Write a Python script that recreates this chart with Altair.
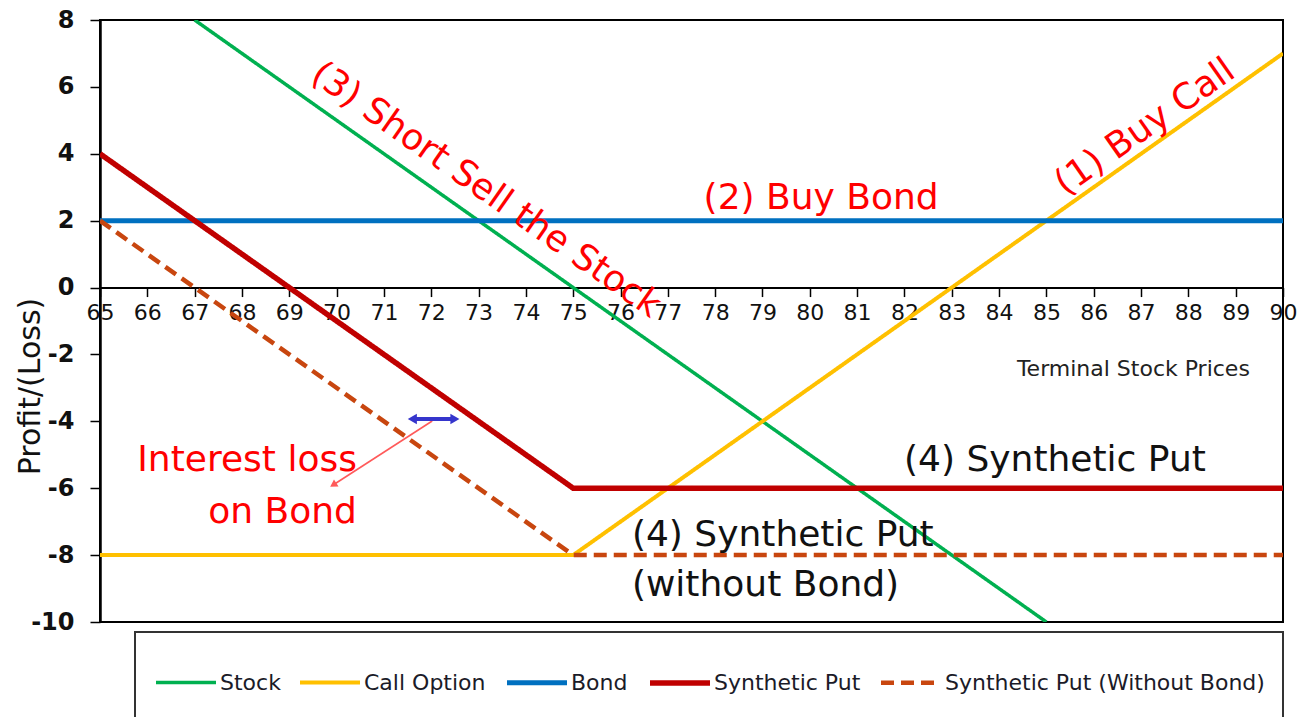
import altair as alt
import pandas as pd

# ---------------- data ----------------
series_names = ["Stock", "Call Option", "Bond", "Synthetic Put", "Synthetic Put (Without Bond)"]
series_colors = ["#00B050", "#FFC000", "#0070C0", "#C00000", "#C8460F"]
series_widths = [3.5, 4, 5, 5.5, 4.5]
series_dashes = [[1, 0], [1, 0], [1, 0], [1, 0], [13, 7]]

stock_x = [67, 85]
stock_y = [8, -10]
call_x = [65, 75, 90]
call_y = [-8, -8, 7]
bond_x = [65, 90]
bond_y = [2, 2]
sput_x = [65, 75, 90]
sput_y = [4, -6, -6]
sput_nb_x = [65, 75, 90]
sput_nb_y = [2, -8, -8]

x_ticks = list(range(65, 91))
y_ticks = list(range(-10, 9, 2))

# annotations (data coordinates)
rot_text = ["(3) Short Sell the Stock", "(1) Buy Call"]
rot_x = [73.16, 87.08]
rot_y = [2.92, 4.80]
rot_angle = [35, 325]

red_center_text = ["(2) Buy Bond"]
red_center_x = [80.24]
red_center_y = [2.68]

red_right_text = ["Interest loss", "on Bond"]
red_right_x = [70.43, 70.43]
red_right_y = [-5.16, -6.71]

black_center_text = ["(4) Synthetic Put"]
black_center_x = [85.18]
black_center_y = [-5.16]

black_left_text = ["(4) Synthetic Put", "(without Bond)"]
black_left_x = [76.24, 76.24]
black_left_y = [-7.40, -8.90]

axis_note_text = ["Terminal Stock Prices"]
axis_note_x = [89.30]
axis_note_y = [-2.44]

red_arrow_x = [72.02, 69.95]
red_arrow_y = [-3.99, -5.88]
red_head_x = [69.95]
red_head_y = [-5.88]

blue_arrow_x = [71.6, 72.5]
blue_arrow_y = [-3.93, -3.93]

# ---------------- build tables ----------------
rows = []
for name, xs, ys in zip(series_names,
                        [stock_x, call_x, bond_x, sput_x, sput_nb_x],
                        [stock_y, call_y, bond_y, sput_y, sput_nb_y]):
    for i, (a, b) in enumerate(zip(xs, ys)):
        rows.append({"series": name, "x": a, "y": b, "order": i})
lines_df = pd.DataFrame(rows)

W, H = 1183, 602
FONT = "DejaVu Sans"

xscale = alt.Scale(domain=[65, 90], nice=False, zero=False)
yscale = alt.Scale(domain=[-10, 8], nice=False, zero=False)

x_axis = alt.Axis(values=x_ticks, tickSize=9, tickColor="black", tickWidth=1.5,
                  domainColor="black", domainWidth=2, labelFont=FONT, labelFontSize=22,
                  labelColor="#111", labelPadding=6, labelFlush=False, labelOverlap=False,
                  grid=False, title=None, offset=-(H * 10 / 18))
y_axis = alt.Axis(values=y_ticks, tickSize=10, tickColor="black", tickWidth=1.5,
                  domainColor="black", domainWidth=2.5, labelFont=FONT, labelFontSize=24,
                  labelFontWeight="bold", labelExpr="toString(datum.value)",
                  labelColor="#111", labelPadding=16, grid=False,
                  title="Profit/(Loss)", titleFont=FONT, titleFontSize=30,
                  titleFontWeight="normal", titleColor="#111",
                  titleX=-70, titleY=366, titleBaseline="middle", titleAlign="center")

legend_props = dict(
    orient="none", legendX=35, legendY=612, direction="horizontal", columns=5,
    symbolType="stroke", symbolSize=3600,
    labelFont=FONT, labelFontSize=22,
    labelColor="#1b1b28", labelOffset=1, columnPadding=11, padding=18,
    strokeColor="#333333", labelLimit=500,
    title=" ", titleOrient="bottom", titleFontSize=14, titlePadding=12,
)

lines = alt.Chart(lines_df).mark_line(clip=True).encode(
    x=alt.X("x:Q", scale=xscale, axis=x_axis),
    y=alt.Y("y:Q", scale=yscale, axis=y_axis),
    color=alt.Color("series:N", scale=alt.Scale(domain=series_names, range=series_colors),
                    legend=alt.Legend(**legend_props)),
    strokeDash=alt.StrokeDash("series:N", scale=alt.Scale(domain=series_names, range=series_dashes),
                              legend=alt.Legend(**legend_props)),
    strokeWidth=alt.StrokeWidth("series:N",
                                scale=alt.Scale(type="ordinal", domain=series_names, range=series_widths),
                                legend=alt.Legend(**legend_props)),
    order="order:Q",
)


def text_layer(texts, xs, ys, color, align, size, angles=None):
    d = {"text": texts, "x": xs, "y": ys}
    enc = dict(x=alt.X("x:Q", scale=xscale), y=alt.Y("y:Q", scale=yscale), text="text:N")
    if angles is not None:
        d["angle"] = angles
        enc["angle"] = alt.Angle("angle:Q", scale=None)
    return alt.Chart(pd.DataFrame(d)).mark_text(
        font=FONT, fontSize=size, color=color, align=align, baseline="middle"
    ).encode(**enc)


t_rot = text_layer(rot_text, rot_x, rot_y, "#FF0000", "center", 36, rot_angle)
t_rc = text_layer(red_center_text, red_center_x, red_center_y, "#FF0000", "center", 36)
t_rr = text_layer(red_right_text, red_right_x, red_right_y, "#FF0000", "right", 36)
t_bc = text_layer(black_center_text, black_center_x, black_center_y, "#111111", "center", 36)
t_bl = text_layer(black_left_text, black_left_x, black_left_y, "#111111", "left", 36)
t_ax = text_layer(axis_note_text, axis_note_x, axis_note_y, "#222222", "right", 22)

red_arrow = alt.Chart(pd.DataFrame({"x": red_arrow_x, "y": red_arrow_y})).mark_line(
    color="#FF5A5A", strokeWidth=1.6).encode(
    x=alt.X("x:Q", scale=xscale), y=alt.Y("y:Q", scale=yscale))
red_head = alt.Chart(pd.DataFrame({"x": red_head_x, "y": red_head_y})).mark_point(
    shape="triangle", filled=True, color="#FF5A5A", size=70, angle=237, opacity=1).encode(
    x=alt.X("x:Q", scale=xscale), y=alt.Y("y:Q", scale=yscale))

blue_df = pd.DataFrame({"x": blue_arrow_x, "y": blue_arrow_y, "shape": ["triangle-left", "triangle-right"]})
blue_line = alt.Chart(blue_df).mark_line(color="#3535CC", strokeWidth=4).encode(
    x=alt.X("x:Q", scale=xscale), y=alt.Y("y:Q", scale=yscale))
blue_heads = alt.Chart(blue_df).mark_point(filled=True, color="#3535CC", size=110, opacity=1).encode(
    x=alt.X("x:Q", scale=xscale), y=alt.Y("y:Q", scale=yscale),
    shape=alt.Shape("shape:N", scale=None))

chart = alt.layer(
    lines, red_arrow, red_head, blue_line, blue_heads,
    t_rot, t_rc, t_rr, t_bc, t_bl, t_ax
).properties(
    width=W, height=H,
    background="white",
    autosize=alt.AutoSizeParams(type="none"),
    padding={"left": 100, "top": 20, "right": 21, "bottom": 95},
).configure_view(
    stroke="black", strokeWidth=2
).configure_legend(
    strokeWidth=2
)

chart.save("out.html", embed_options={"renderer": "svg", "actions": False})
